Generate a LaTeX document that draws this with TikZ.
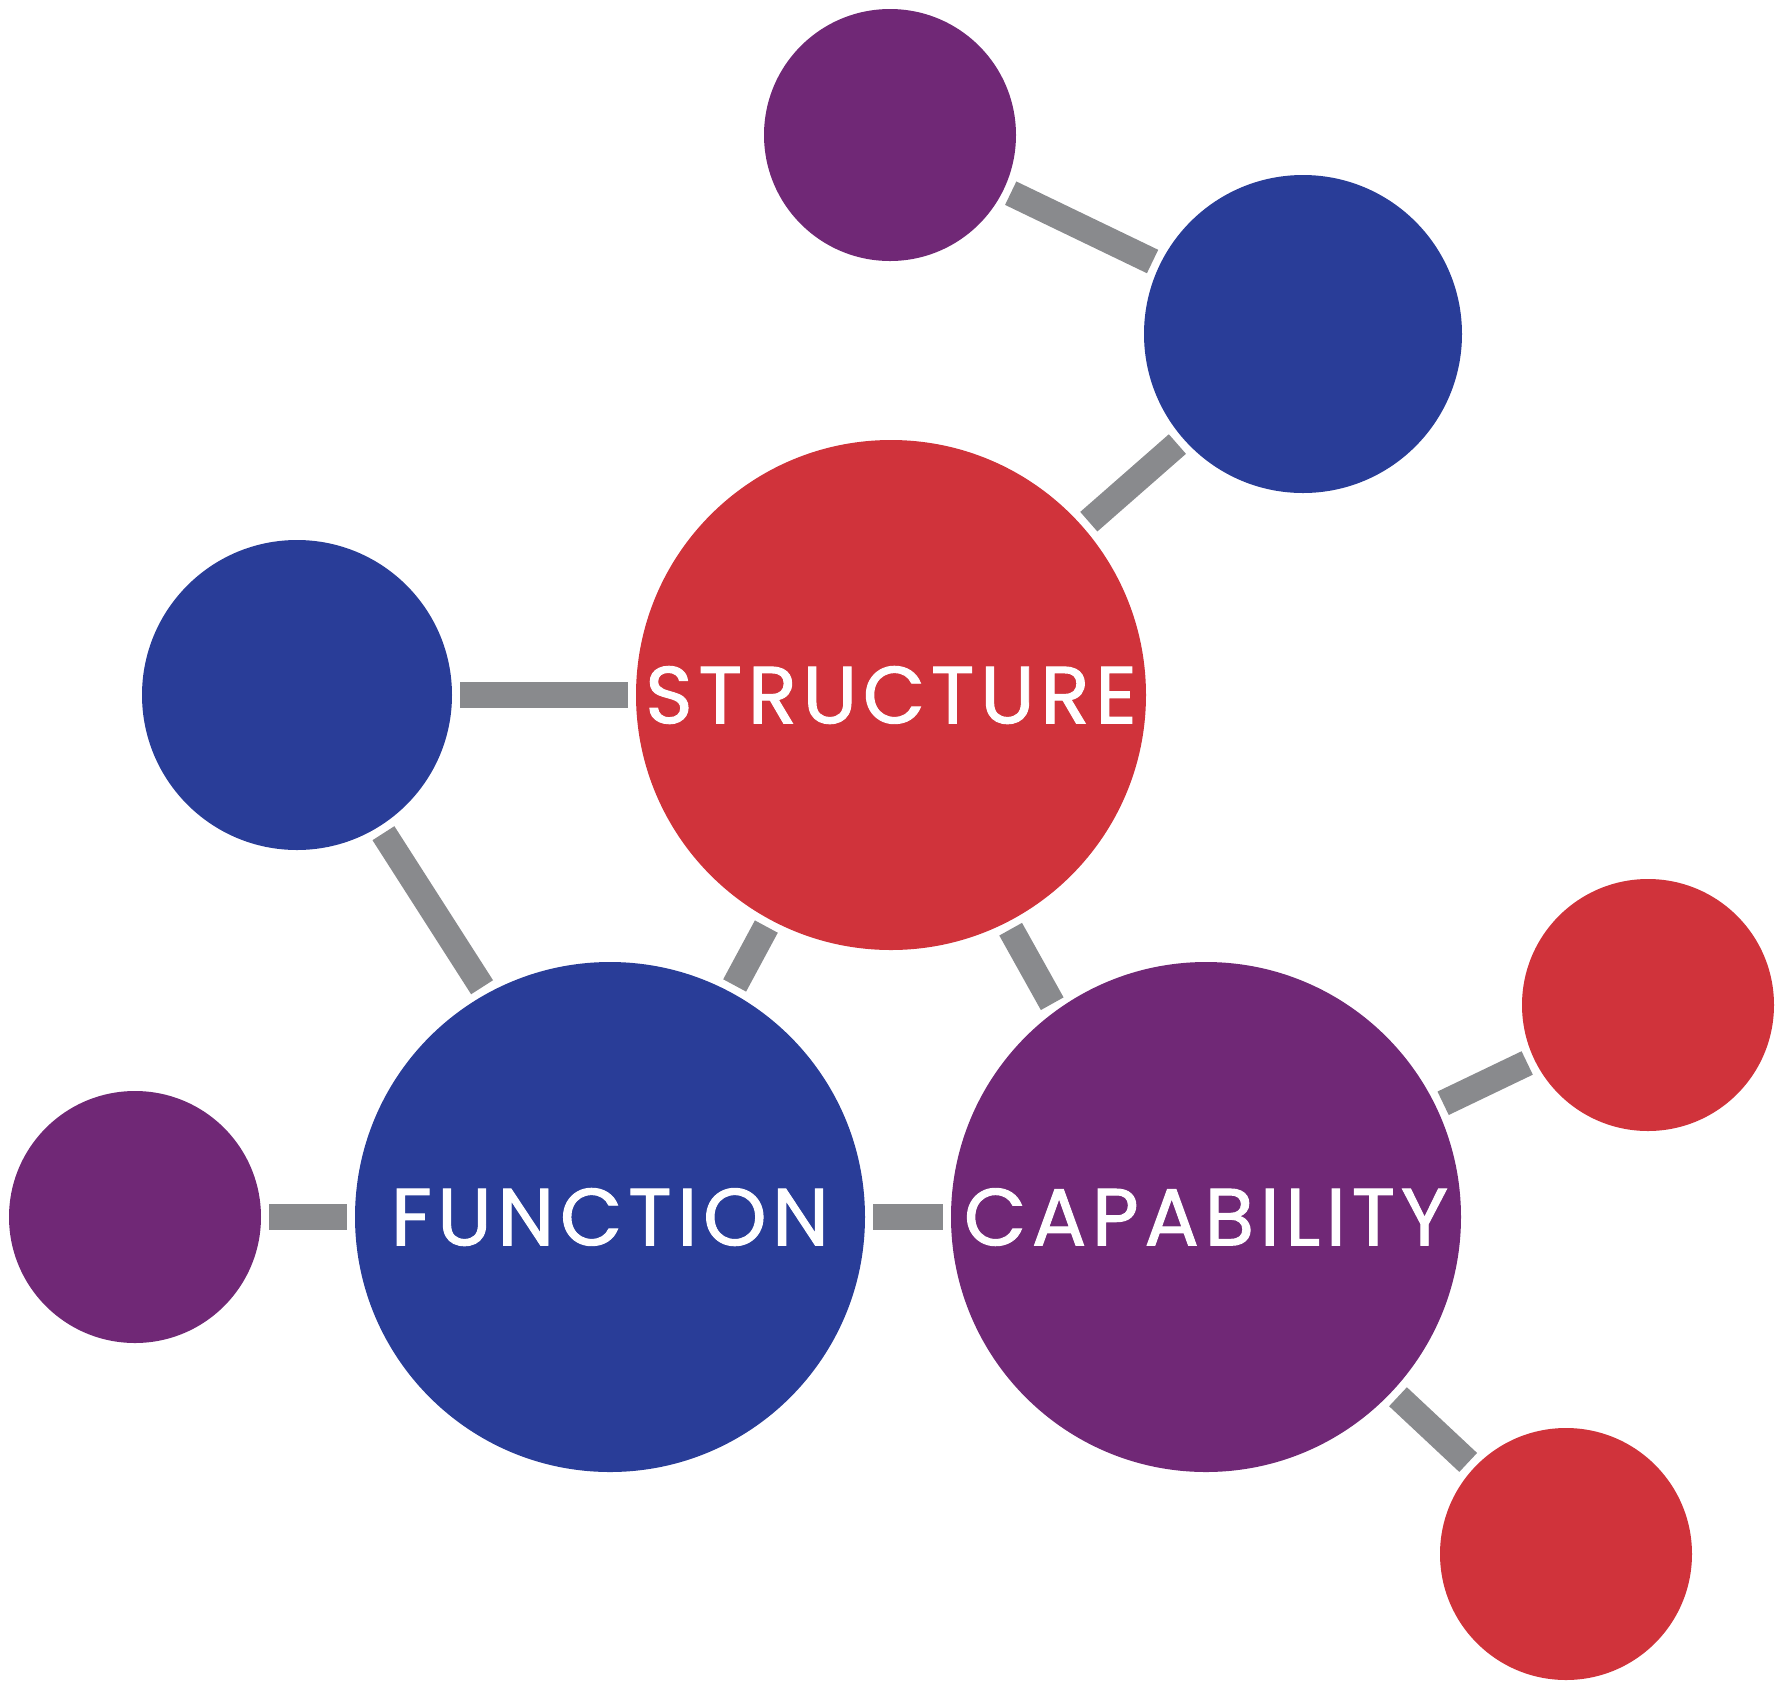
\documentclass[tikz,border=0pt]{standalone}
\usepackage{fontspec}
\usepackage{tikz}
\definecolor{molred}{RGB}{208,51,59}
\definecolor{molblue}{RGB}{41,61,152}
\definecolor{molpurple}{RGB}{112,40,118}
\definecolor{bondgray}{RGB}{137,138,141}
\newfontfamily\labelfont[LetterSpace=7,FakeBold=1.2]{Poppins}

\begin{document}
\begin{tikzpicture}[atom/.style={circle, inner sep=0pt, outer sep=0pt},
    big/.style={atom, minimum size=5.1cm},
    small/.style={atom, minimum size=2.52cm},
    atomlabel/.style={text=white, font=\labelfont\fontsize{23}{23}\selectfont},
    bond/.style={bondgray, line width=0.26cm, shorten <=0.08cm, shorten >=0.08cm}]
    \useasboundingbox (0,0) rectangle (17.83,-16.91);

    \node [big, fill=molred, label={[atomlabel]center:STRUCTURE}] (structure) at (8.91,-6.95) {};
    \node [big, fill=molblue, label={[atomlabel]center:FUNCTION}] (function) at (6.10,-12.17) {};
    \node [big, fill=molpurple, label={[atomlabel]center:CAPABILITY}] (capability) at (12.06,-12.17) {};
    \node [small, fill=molpurple] (purpletop) at (8.90,-1.35) {};
    \node [atom, minimum size=3.18cm, fill=molblue] (bluetop) at (13.03,-3.34) {};
    \node [atom, minimum size=3.10cm, fill=molblue] (blueleft) at (2.97,-6.95) {};
    \node [small, fill=molpurple] (purpleleft) at (1.35,-12.17) {};
    \node [small, fill=molred] (redright) at (16.48,-10.05) {};
    \node [small, fill=molred] (redbottom) at (15.66,-15.54) {};

    \draw [bond] (purpletop) -- (bluetop);
    \draw [bond] (structure) -- (bluetop);
    \draw [bond] (blueleft) -- (structure);
    \draw [bond] (blueleft.-58.2) -- (function.119.6);
    \draw [bond] (function) -- (structure);
    \draw [bond] (structure.-63.5) -- (capability.126.2);
    \draw [bond] (purpleleft) -- (function);
    \draw [bond] (function) -- (capability);
    \draw [bond] (capability) -- (redright);
    \draw [bond] (capability) -- (redbottom);
\end{tikzpicture}
\end{document}
